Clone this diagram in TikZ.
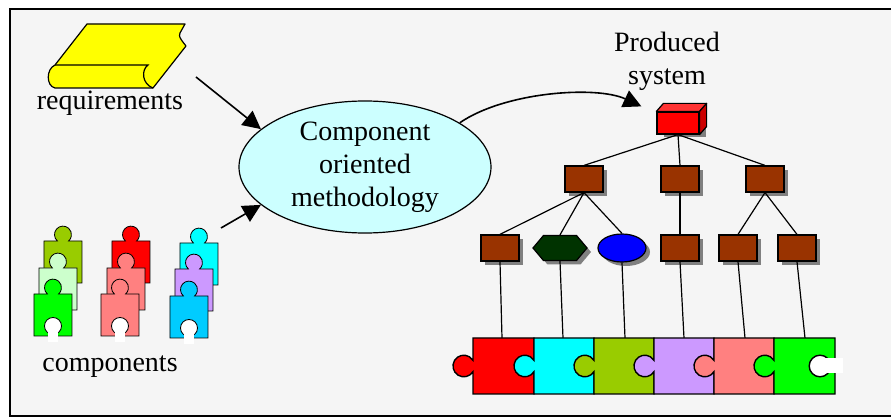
\documentclass[tikz,border=0pt]{standalone}
\usepackage{fontspec}
\setmainfont{Liberation Serif}
\usepackage{xcolor}
\usepackage{tikz}
\usetikzlibrary{arrows.meta,shapes.geometric,shapes.symbols,shadows}

\definecolor{bggrey}{HTML}{F5F5F5}
\definecolor{bookyellow}{HTML}{FFFF00}
\definecolor{methcyan}{HTML}{CCFFFF}
\definecolor{brick}{HTML}{993300}
\definecolor{hexgreen}{HTML}{003300}
\definecolor{olive}{HTML}{99CC00}
\definecolor{palegreen}{HTML}{CCFFCC}
\definecolor{salmon}{HTML}{FF8080}
\definecolor{lavender}{HTML}{CC99FF}
\definecolor{skyblue}{HTML}{00CCFF}
\definecolor{aqua}{HTML}{00FFFF}

% one piece of the assembled row: left x, width, colour (knob on the left)
\newcommand\jigpiece[3]{%
  \filldraw[fill=#3] (#1,338) -- ++(#2,0) -- ++(0,56) -- ++(-#2,0) -- ++(0,-22.34)
    arc[start angle=31.6, end angle=328.4, radius=10.8] -- cycle;}
% one loose component: top-left corner, colour (knob on top)
\newcommand\bitpiece[3]{%
  \filldraw[fill=#3] (#1,#2) -- ++(13.4,0)
    arc[start angle=131.15, end angle=408.85, radius=8.5]
    -- ++(13.4,0) -- ++(0,42) -- ++(-38,0) -- cycle;}
% white socket at the bottom of a loose component
\newcommand\bithole[2]{%
  \filldraw[fill=white] (#1+19,#2+32) circle[radius=8.5];
  \fill[white] (#1+14,#2+33) rectangle (#1+24,#2+48);}

\begin{document}
\begin{tikzpicture}[x=0.5pt, y=-0.5pt,
  lbl/.style={font=\fontsize{14}{16.5}\selectfont, align=center, inner sep=0pt},
  meth/.style={lbl, ellipse, draw, line width=0.6pt, fill=methcyan,
               minimum width=126pt, minimum height=66pt},
  shd/.style={drop shadow={fill=black!50, opacity=1,
              shadow xshift=2pt, shadow yshift=-2pt}},
  mod/.style={draw, line width=0.6pt, fill=brick, minimum width=19pt,
              minimum height=13pt, inner sep=0pt, shd},
  arr/.style={-{Triangle[length=9pt,width=9pt]}, line width=0.8pt},
  link/.style={line width=0.6pt},
]
  \useasboundingbox (0,0) rectangle (891,417);
  \fill[bggrey] (10,9) rectangle (891,416);
  \draw[line width=1.3pt] (891,9) -- (10,9) -- (10,416) -- (891,416);

  % requirements book
  \filldraw[fill=bookyellow, line width=0.6pt, line join=round]
    (87,24) -- (185,24) -- (180,33) .. controls (179,37) .. (186,46)
    -- (153,88) -- (55,88) .. controls (46,86) and (46,69) .. (55,65) -- cycle;
  \draw[line width=0.6pt] (55,65) -- (148,65)
    .. controls (141,70) and (142,84) .. (153,88);
  \node[lbl] (req) at (110,103) {requirements};

  % loose components
  \bitpiece{44}{241}{olive}
  \bitpiece{39}{268}{palegreen}
  \bitpiece{34}{294}{green}
  \bithole{34}{294}
  \bitpiece{112}{241}{red}
  \bitpiece{107}{268}{salmon}
  \bitpiece{101}{294}{salmon}
  \bithole{101}{294}
  \bitpiece{180}{243}{aqua}
  \bitpiece{175}{269}{lavender}
  \bitpiece{170}{296}{skyblue}
  \bithole{170}{296}
  \node[lbl] (comp) at (110,367) {components};

  % methodology
  \node[meth] (meth) at (365,167) {Component\\oriented\\methodology};
  \coordinate (reqout) at (196,77);
  \coordinate (compout) at (221,228);
  \draw[arr] (reqout) -- (meth.160);
  \draw[arr] (compout) -- (meth.200);

  % produced system tree
  \node[lbl] (prod) at (667,61) {Produced\\system};
  \node[draw, line width=0.6pt, fill=red, minimum width=21pt, minimum height=11pt,
        inner sep=0pt, drop shadow={fill=black!50, opacity=1,
        shadow xshift=3.5pt, shadow yshift=-1.5pt}] (sys) at (678,123) {};
  \filldraw[fill=red!80!white, line width=0.6pt, line join=round]
    (sys.north west) -- ++(3.5pt,4pt) -- ([shift={(3.5pt,4pt)}]sys.north east)
    -- (sys.north east) -- cycle;
  \filldraw[fill=red!80!black, line width=0.6pt, line join=round]
    (sys.north east) -- ++(3.5pt,4pt) -- ([shift={(3.5pt,4pt)}]sys.south east)
    -- (sys.south east) -- cycle;
  \draw[arr] (meth.25) .. controls +(45,-31) and +(-45,-21) .. ([shift={(-7.5pt,2.5pt)}]sys.north west);

  \node[mod] (m1) at (584,179) {};
  \node[mod] (m2) at (680,179) {};
  \node[mod] (m3) at (765,179) {};
  \node[mod] (s1) at (500,248) {};
  \node[signal, signal to=east and west, signal pointer angle=100, draw,
        line width=0.6pt, fill=hexgreen, minimum width=27pt, minimum height=12.5pt,
        inner sep=0pt, shd] (s2) at (560,248) {};
  \node[ellipse, draw, line width=0.6pt, fill=blue, minimum width=24pt,
        minimum height=14pt, inner sep=0pt, shd] (s3) at (622,248) {};
  \node[mod] (s4) at (680,248) {};
  \node[mod] (s5) at (738,248) {};
  \node[mod] (s6) at (797,248) {};

  \draw[link] (sys.south) -- (m1.north);
  \draw[link] (sys.south) -- (m2.north);
  \draw[link] (sys.south) -- (m3.north);
  \draw[link] (m1.south) -- (s1.north);
  \draw[link] (m1.south) -- (s2.north);
  \draw[link] (m1.south) -- (s3.north);
  \draw[link] (m2.south) -- (s4.north);
  \draw[link] (m3.south) -- (s5.north);
  \draw[link] (m3.south) -- (s6.north);

  % assembled components
  \coordinate (p1) at (502,338);
  \coordinate (p2) at (563,338);
  \coordinate (p3) at (625,338);
  \coordinate (p4) at (684,338);
  \coordinate (p5) at (745,338);
  \coordinate (p6) at (805,338);
  \draw[link] (s1.south) -- (p1);
  \draw[link] (s2.south) -- (p2);
  \draw[link] (s3.south) -- (p3);
  \draw[link] (s4.south) -- (p4);
  \draw[link] (s5.south) -- (p5);
  \draw[link] (s6.south) -- (p6);

  \begin{scope}[line width=0.7pt]
    \jigpiece{473}{61}{red}
    \jigpiece{534}{60}{aqua}
    \jigpiece{594}{60}{olive}
    \jigpiece{654}{60}{lavender}
    \jigpiece{714}{60}{salmon}
    \jigpiece{774}{61}{green}
    \filldraw[fill=white] (820,366) circle[radius=10.8];
    \fill[white] (825,358) rectangle (843,373);
  \end{scope}
\end{tikzpicture}
\end{document}
